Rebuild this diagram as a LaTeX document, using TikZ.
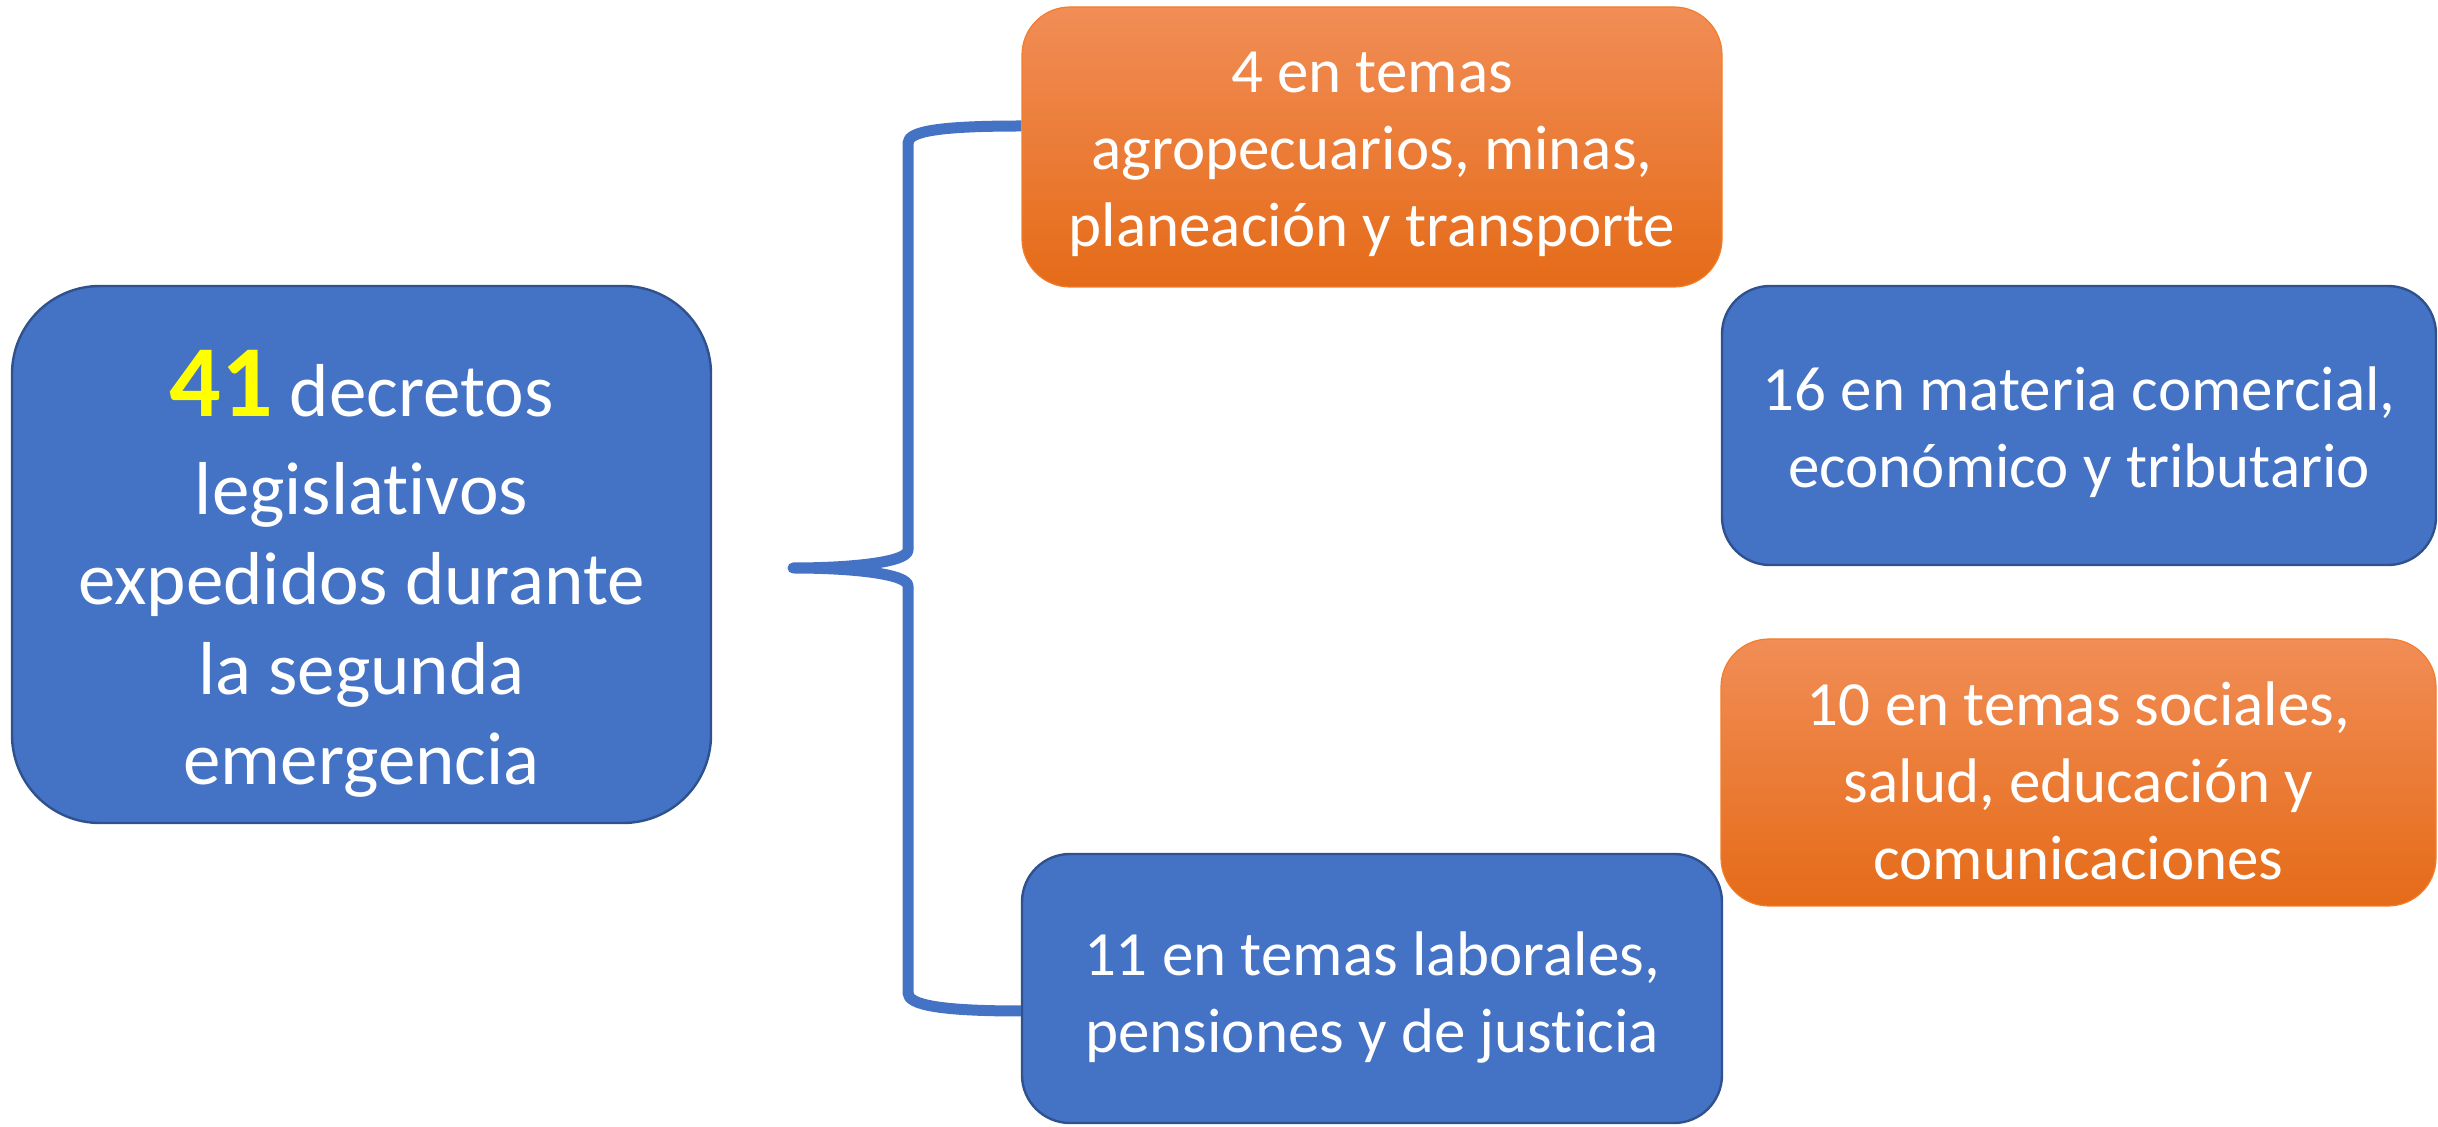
\documentclass[tikz,border=0pt]{standalone}
\usepackage{fontspec}
\setmainfont{Carlito}[Ligatures=NoCommon]
\definecolor{oblue}{HTML}{4472C4}
\definecolor{oborder}{HTML}{2F528F}
\definecolor{otop}{RGB}{241,141,86}
\definecolor{omid}{RGB}{244,125,42}
\definecolor{obot}{RGB}{229,107,24}
\definecolor{numyellow}{RGB}{255,255,0}
\begin{document}
\begin{tikzpicture}[x=0.5pt,y=-0.5pt]
\useasboundingbox (0,0) rectangle (2438,1127);
\tikzset{
  boxbase/.style={align=center, inner sep=0pt, text=white, rounded corners=24pt},
  bluebox/.style={boxbase, draw=oborder, line width=1.2pt, fill=oblue},
  orangebox/.style={boxbase, draw=omid, line width=0.6pt, shading=axis, top color=otop, middle color=omid, bottom color=obot},
  smalltext/.style={font=\fontsize{31.5}{38.5}\selectfont},
  brace/.style={draw=oblue, line width=5.5pt, line join=round, line cap=butt}
}
\node[bluebox, rounded corners=44pt, minimum width=349.5pt, minimum height=268.5pt,
      font=\fontsize{37.5}{45}\selectfont] (main) at (361.5,554.5)
  {\rule{0pt}{52pt}{\fontsize{51}{45}\selectfont\bfseries\color{numyellow}41} decretos\\[4pt]
   legislativos\\ expedidos durante\\ la segunda\\ emergencia};
\node[orangebox, smalltext, minimum width=350pt, minimum height=140pt] (b1) at (1372,147)
  {\rule{0pt}{28pt}4 en temas\\ agropecuarios, minas,\\ planeación y transporte};
\node[bluebox, smalltext, minimum width=357pt, minimum height=139.5pt] (b2) at (2079,425.5)
  {\rule{0pt}{29pt}16 en materia comercial,\\ económico y tributario};
\node[orangebox, smalltext, minimum width=357.5pt, minimum height=133.5pt] (b3) at (2078.5,772.5)
  {\rule{0pt}{30pt}10 en temas sociales,\\ salud, educación y\\ comunicaciones};
\node[bluebox, smalltext, minimum width=350pt, minimum height=134.5pt] (b4) at (1372,988.5)
  {\rule{0pt}{31pt}11 en temas laborales,\\ pensiones y de justicia};
\coordinate (tip) at (793,568);
\coordinate (btop) at ([yshift=10.5pt]b1.west);
\coordinate (bbot) at ([yshift=-11.25pt]b4.west);
\draw[brace] (btop) .. controls +(-80,0) and +(0,-12) .. (908,143)
  -- (908,550) .. controls +(0,12) and +(60,0) .. (tip)
  .. controls +(60,0) and +(0,-12) .. (908,586)
  -- (908,993) .. controls +(0,12) and +(-80,0) .. (bbot);
\end{tikzpicture}
\end{document}
